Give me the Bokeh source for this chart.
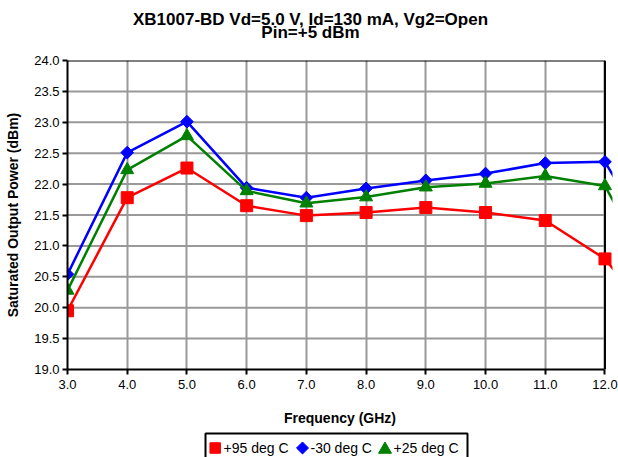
import numpy as np
from bokeh.plotting import figure
from bokeh.layouts import column
from bokeh.models import Range1d, FixedTicker, NumeralTickFormatter
from bokeh.core.properties import value
from bokeh.embed import file_html
from bokeh.resources import INLINE

# ---- data ----
freq_ghz = [3.0, 4.0, 5.0, 6.0, 7.0, 8.0, 9.0, 10.0, 11.0, 12.0, 13.0]
pout_p95 = [19.95, 21.78, 22.26, 21.65, 21.49, 21.54, 21.62, 21.54, 21.41, 20.79, 19.60]
pout_m30 = [20.54, 22.51, 23.01, 21.94, 21.78, 21.93, 22.06, 22.17, 22.34, 22.36, 20.73]
pout_p25 = [20.28, 22.23, 22.78, 21.89, 21.69, 21.79, 21.95, 22.01, 22.13, 21.97, 20.21]

series_names = ["+95 deg C", "-30 deg C", "+25 deg C"]
x_ticks = [3.0, 4.0, 5.0, 6.0, 7.0, 8.0, 9.0, 10.0, 11.0, 12.0]
y_ticks = [19.0, 19.5, 20.0, 20.5, 21.0, 21.5, 22.0, 22.5, 23.0, 23.5, 24.0]

title_main = "XB1007-BD Vd=5.0 V, Id=130 mA, Vg2=Open"
title_sub = "Pin=+5 dBm"
x_label = "Frequency (GHz)"
y_label = "Saturated Output Power (dBm)"

x_min, x_max = x_ticks[0], x_ticks[-1]
y_min, y_max = y_ticks[0], y_ticks[-1]

FONT = "Liberation Sans"
GRID = "#999999"
colors = ["#FF0000", "#0000FF", "#008000"]
markers = ["square", "square", "triangle"]
angles = [0.0, np.pi / 4, 0.0]
sizes = [12, 9, 13]
W = 618
BL, BR = 67, 6   # left / right borders shared by all three stacked figures


def bare(fig):
    fig.outline_line_color = None
    fig.background_fill_color = "white"
    fig.border_fill_color = "white"
    fig.xgrid.visible = False
    fig.ygrid.visible = False
    return fig


def strip(height):
    # pixel-coordinate strip whose frame lines up with the main chart's frame
    return bare(figure(width=W, height=height, output_backend="svg",
                       toolbar_location=None, x_range=Range1d(BL, W - BR),
                       y_range=Range1d(0, height), min_border_left=BL,
                       min_border_right=BR, min_border_top=0, min_border_bottom=0,
                       x_axis_location=None, y_axis_location=None))


# ---- title strip ----
TH = 50
t = strip(TH)
t.text(x=[310, 310], y=[TH - 18.6, TH - 32.3], text=[title_main, title_sub],
       text_align="center", text_baseline="alphabetic", text_color="black",
       text_font=value(FONT), text_font_style="bold", text_font_size="17px")

# ---- main chart ----
p = bare(figure(width=W, height=380, output_backend="svg", toolbar_location=None,
                x_range=Range1d(x_min, x_max + 0.126), y_range=Range1d(y_min, y_max),
                min_border_left=BL, min_border_right=BR, min_border_top=10,
                min_border_bottom=61))

p.xgrid.visible = True
p.xgrid.ticker = FixedTicker(ticks=x_ticks)
p.xgrid.grid_line_color = GRID
p.xgrid.grid_line_width = 2
inner_y = y_ticks[1:-1]
p.segment(x0=[x_min] * len(inner_y), y0=inner_y, x1=[x_max] * len(inner_y), y1=inner_y,
          line_color=GRID, line_width=2)
# plot-area border (top and right)
p.segment(x0=[x_min, x_max], y0=[y_max, y_min], x1=[x_max, x_max], y1=[y_max, y_max],
          line_color="black", line_width=2)

values = [pout_p95, pout_m30, pout_p25]
for col, vals, mk, ang, sz in zip(colors, values, markers, angles, sizes):
    p.line(freq_ghz, vals, line_color=col, line_width=2.5)
    p.scatter(freq_ghz, vals, marker=mk, angle=ang, size=sz, fill_color=col,
              line_color=col, line_width=1)

for ax in (p.xaxis[0], p.yaxis[0]):
    ax.axis_line_width = 2
    ax.axis_line_color = "black"
    ax.major_tick_line_width = 2
    ax.major_tick_line_color = "black"
    ax.major_tick_out = 5
    ax.major_tick_in = 0
    ax.minor_tick_line_color = None
    ax.major_label_text_font = FONT
    ax.major_label_text_font_size = "13px"
    ax.major_label_text_color = "black"
    ax.axis_label_text_font = FONT
    ax.axis_label_text_font_size = "14px"
    ax.axis_label_text_font_style = "bold"
    ax.axis_label_text_color = "black"
    ax.formatter = NumeralTickFormatter(format="0.0")

p.xaxis.ticker = FixedTicker(ticks=x_ticks)
p.xaxis.bounds = (x_min, x_max)
p.xaxis.axis_label = x_label
p.xaxis.major_label_standoff = 5
p.xaxis.axis_label_standoff = 18
p.yaxis.ticker = FixedTicker(ticks=y_ticks)
p.yaxis.axis_label = y_label
p.yaxis.major_label_standoff = 3
p.yaxis.axis_label_standoff = 10

# ---- legend strip ----
LH = 27
lg = strip(LH)
lg.quad(left=[205], right=[467], bottom=[-6], top=[LH - 3], fill_color="white",
        line_color="black", line_width=2)
mk_x = [214.7, 302.0, 384.5]
mk_y = [9.5, 9.5, 8.0]
lg_sizes = [10.5, 8.5, 13]
for col, mk, ang, sz, mx, my in zip(colors, markers, angles, lg_sizes, mk_x, mk_y):
    lg.scatter([mx], [my], marker=mk, angle=ang, size=sz, fill_color=col,
               line_color=col, line_width=1)
lg.text(x=[223, 310, 393], y=[9.4] * 3, text=series_names, text_align="left",
        text_baseline="alphabetic", text_color="black", text_font=value(FONT),
        text_font_size="14px")

layout = column(t, p, lg, spacing=0)
open("out.html", "w").write(file_html(layout, INLINE))
